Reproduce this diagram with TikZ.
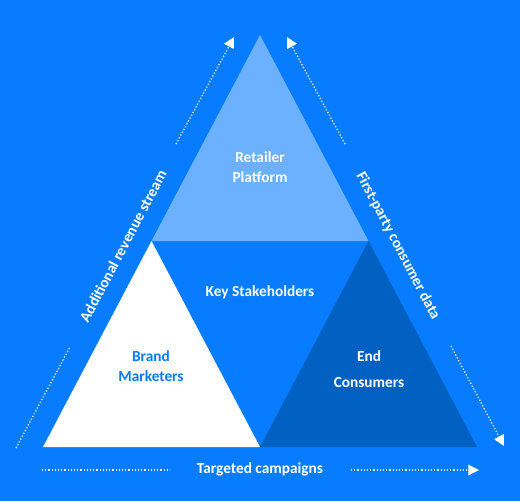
\documentclass[tikz,border=0pt]{standalone}
\usepackage{fontspec}
\setmainfont{Carlito}
\usetikzlibrary{arrows.meta,positioning,calc}
\definecolor{bgblue}{HTML}{077CFF}
\definecolor{topblue}{HTML}{6BB1FF}
\definecolor{darkblue}{HTML}{0061C2}
\tikzset{
	x=0.75pt, y=-0.75pt, % one unit is one pixel of the reference
	txt/.style={font=\bfseries\fontsize{11.5}{15}\selectfont, text=white, align=center},
	dots/.style={white, line width=0.9pt, dash pattern=on 0.9pt off 1.5pt},
	flow/.style={dots, -{Triangle[length=8pt,width=8pt]}},
}
\begin{document}
\begin{tikzpicture}
	% background
	\fill[bgblue] (0,0) rectangle (520,501);
	\useasboundingbox (0,0) rectangle (520,501);

	% corners of the big triangle and midpoints
	\coordinate (apex) at (260,35);
	\coordinate (bl) at (43,447);
	\coordinate (br) at (477,447);
	\coordinate (ml) at ($(apex)!0.5!(bl)$);
	\coordinate (mr) at ($(apex)!0.5!(br)$);
	\coordinate (mb) at ($(bl)!0.5!(br)$);

	\fill[topblue] (apex) -- (ml) -- (mr) -- cycle;
	\fill[white] (ml) -- (bl) -- (mb) -- cycle;
	\fill[darkblue] (mr) -- (mb) -- (br) -- cycle;

	% labels
	\node[txt] (retailer) at (260,167) {Retailer\\Platform};
	\node[txt] (key) at (260,292) {Key Stakeholders};
	\node[txt, text=bgblue] (brand) at (151,366) {Brand\\Marketers};
	\node[txt, font=\bfseries\fontsize{11.5}{19}\selectfont] (endc) at (369,369) {End\\Consumers};
	\node[txt] (campaigns) at (260,469) {Targeted campaigns};
	\node[txt, rotate=62.2] (revenue) at (123,246) {Additional revenue stream};
	\node[txt, rotate=-62.2] (firstparty) at (398,246) {First-party consumer data};

	% arrow ends
	\coordinate (l1) at (16,448);
	\coordinate (l2) at (70,347);
	\coordinate (l3) at (176,144);
	\coordinate (l4) at (234,37);
	\coordinate (r1) at (345,144);
	\coordinate (r2) at (287,37);
	\coordinate (r3) at (451,346);
	\coordinate (r4) at (504,446);
	\coordinate (b1) at (42,470);
	\coordinate (b2) at (170,470);
	\coordinate (b3) at (351,470);
	\coordinate (b4) at (479,470);

	\draw[dots] (l1) -- (l2);
	\draw[flow] (l3) -- (l4);
	\draw[flow] (r1) -- (r2);
	\draw[flow] (r3) -- (r4);
	\draw[dots] (b1) -- (b2);
	\draw[flow] (b3) -- (b4);
\end{tikzpicture}
\end{document}
